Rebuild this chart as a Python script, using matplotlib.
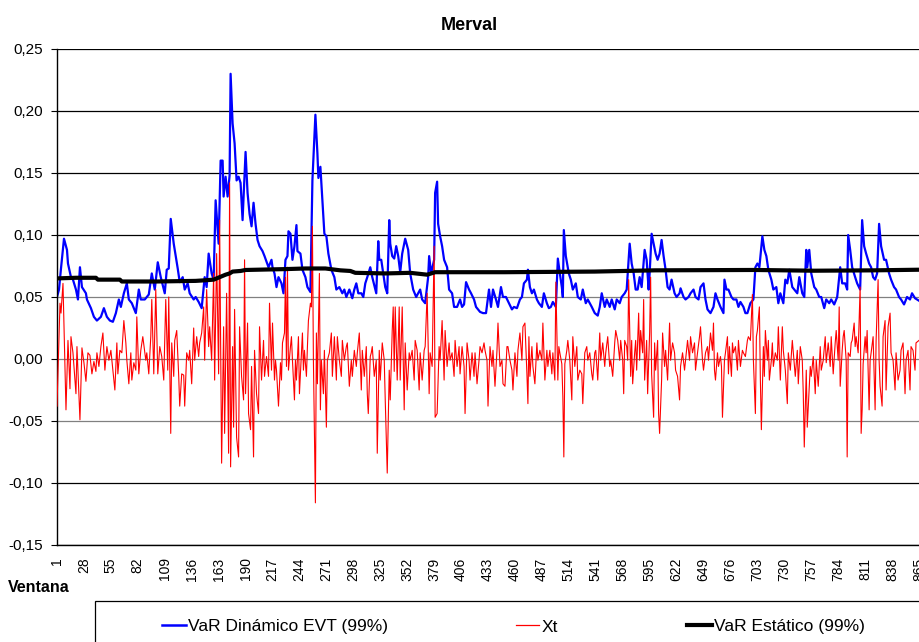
import matplotlib
matplotlib.use("Agg")
import matplotlib.pyplot as plt
from matplotlib.lines import Line2D
from matplotlib.patches import Rectangle
from matplotlib.ticker import FuncFormatter

plt.rcParams['font.family'] = ['Liberation Sans', 'DejaVu Sans']
plt.rcParams['font.size'] = 10

# ---------------- data ----------------
title = "Merval"
x_label = "Ventana"
series_names = ["VaR Dinámico EVT (99%)", "Xt", "VaR Estático (99%)"]
series_colors = ["#0000FF", "#FF0000", "#000000"]
x_ticks = list(range(1, 866, 27))
y_ticks = [-0.15, -0.10, -0.05, 0.00, 0.05, 0.10, 0.15, 0.20, 0.25]

# (window, value)
var_evt_points = [
    (1, 0.050), (3, 0.056), (5, 0.073), (8, 0.097), (11, 0.088), (12, 0.077), (15, 0.066), (17, 0.064),
    (20, 0.056), (22, 0.048), (24, 0.074), (26, 0.058), (30, 0.053), (31, 0.048), (35, 0.041), (38, 0.034),
    (41, 0.031), (45, 0.034), (48, 0.041), (51, 0.034), (54, 0.031), (57, 0.030), (60, 0.037), (63, 0.048),
    (65, 0.042), (68, 0.053), (71, 0.061), (73, 0.048), (76, 0.045), (80, 0.037), (83, 0.056), (85, 0.048),
    (89, 0.048), (93, 0.052), (96, 0.069), (99, 0.056), (102, 0.078), (105, 0.066),
    (109, 0.053), (111, 0.072), (113, 0.073), (115, 0.113), (118, 0.093), (120, 0.083), (122, 0.073),
    (124, 0.062), (127, 0.066), (129, 0.056), (132, 0.061), (134, 0.053), (138, 0.048), (140, 0.050),
    (143, 0.046), (146, 0.041), (149, 0.066), (151, 0.058), (153, 0.085), (156, 0.069), (158, 0.064),
    (160, 0.128), (163, 0.093), (165, 0.160), (167, 0.160), (168, 0.131), (170, 0.147), (172, 0.131),
    (174, 0.148), (175, 0.230), (177, 0.190), (179, 0.174), (181, 0.144), (183, 0.147), (185, 0.142),
    (187, 0.112), (190, 0.167), (192, 0.134), (194, 0.117), (196, 0.107), (198, 0.126), (200, 0.109),
    (202, 0.096), (204, 0.091), (207, 0.087), (209, 0.083), (213, 0.074),
    (216, 0.080), (217, 0.074), (219, 0.069), (221, 0.058), (223, 0.066), (226, 0.061), (228, 0.053),
    (230, 0.080), (232, 0.083), (233, 0.103), (235, 0.101), (237, 0.080), (239, 0.091), (241, 0.108),
    (242, 0.087), (245, 0.085), (247, 0.072), (250, 0.066), (252, 0.058), (255, 0.054), (257, 0.144),
    (260, 0.197), (262, 0.166), (263, 0.146), (265, 0.155), (267, 0.128), (269, 0.101), (271, 0.099),
    (273, 0.085), (276, 0.072), (279, 0.066), (281, 0.056), (284, 0.058), (287, 0.053), (289, 0.056),
    (291, 0.050), (294, 0.056), (297, 0.049), (299, 0.056), (301, 0.061), (303, 0.053), (306, 0.053),
    (308, 0.050), (310, 0.061), (312, 0.066), (315, 0.074), (317, 0.066), (321, 0.053),
    (323, 0.095), (324, 0.080), (326, 0.080), (328, 0.069), (330, 0.058), (332, 0.053), (334, 0.112),
    (335, 0.093), (337, 0.083), (339, 0.081), (341, 0.091), (343, 0.083), (345, 0.070), (347, 0.085),
    (350, 0.097), (353, 0.088), (355, 0.069), (358, 0.056), (361, 0.050), (365, 0.056), (367, 0.048),
    (370, 0.045), (373, 0.066), (374, 0.083), (376, 0.069), (379, 0.080), (380, 0.134), (382, 0.143),
    (383, 0.109), (385, 0.099), (387, 0.091), (389, 0.080), (392, 0.074), (394, 0.056), (397, 0.053),
    (399, 0.042), (402, 0.042), (405, 0.048), (407, 0.042), (409, 0.044), (411, 0.062), (414, 0.056),
    (416, 0.053), (419, 0.048), (421, 0.042), (425, 0.038), (428, 0.037), (431, 0.037),
    (434, 0.056), (436, 0.042), (438, 0.056), (441, 0.048), (443, 0.042), (446, 0.058), (448, 0.050),
    (451, 0.050), (454, 0.045), (457, 0.040), (459, 0.042), (462, 0.041), (465, 0.048), (467, 0.050),
    (469, 0.061), (472, 0.064), (473, 0.072), (475, 0.058), (477, 0.053), (479, 0.056), (482, 0.048),
    (484, 0.045), (487, 0.042), (489, 0.053), (492, 0.045), (494, 0.041), (496, 0.042), (498, 0.046),
    (501, 0.042), (503, 0.081), (505, 0.069), (507, 0.058), (508, 0.050), (509, 0.104), (511, 0.083),
    (514, 0.069), (516, 0.064), (518, 0.056), (521, 0.061), (523, 0.050), (526, 0.048), (528, 0.056),
    (531, 0.045), (533, 0.048), (537, 0.042),
    (540, 0.037), (543, 0.035), (545, 0.042), (547, 0.053), (550, 0.042), (552, 0.048), (555, 0.042),
    (557, 0.048), (560, 0.040), (562, 0.048), (565, 0.045), (567, 0.050), (570, 0.053), (572, 0.056),
    (575, 0.093), (577, 0.077), (579, 0.069), (581, 0.056), (583, 0.056), (585, 0.066), (587, 0.058),
    (590, 0.088), (592, 0.080), (594, 0.056), (595, 0.069), (597, 0.101), (599, 0.093), (601, 0.085),
    (603, 0.080), (605, 0.085), (607, 0.096), (609, 0.083), (611, 0.072), (613, 0.058), (615, 0.056),
    (617, 0.064), (620, 0.053), (622, 0.050), (625, 0.053), (626, 0.057), (629, 0.050), (631, 0.048),
    (634, 0.050), (636, 0.053), (639, 0.056), (641, 0.050), (644, 0.048), (646, 0.058),
    (649, 0.061), (651, 0.048), (653, 0.040), (656, 0.037), (659, 0.042), (661, 0.053), (663, 0.048),
    (666, 0.042), (669, 0.037), (670, 0.064), (672, 0.056), (674, 0.056), (677, 0.050), (679, 0.048),
    (682, 0.048), (684, 0.042), (686, 0.046), (689, 0.042), (691, 0.037), (693, 0.037), (696, 0.045),
    (699, 0.048), (701, 0.074), (703, 0.077), (705, 0.074), (708, 0.099), (710, 0.088), (712, 0.083),
    (714, 0.072), (717, 0.064), (719, 0.056), (722, 0.058), (724, 0.045), (726, 0.053), (729, 0.045),
    (731, 0.064), (733, 0.061), (735, 0.072), (738, 0.058), (740, 0.056), (743, 0.053), (745, 0.066),
    (748, 0.053), (750, 0.050), (752, 0.088), (753, 0.074), (755, 0.088), (757, 0.069),
    (760, 0.058), (762, 0.056), (765, 0.050), (767, 0.050), (770, 0.041), (772, 0.048), (775, 0.045),
    (777, 0.048), (780, 0.044), (783, 0.050), (786, 0.074), (788, 0.061), (791, 0.061), (793, 0.056),
    (794, 0.100), (796, 0.088), (798, 0.074), (801, 0.066), (803, 0.061), (806, 0.056), (808, 0.112),
    (810, 0.091), (812, 0.085), (815, 0.077), (817, 0.074), (819, 0.066), (821, 0.064), (823, 0.069),
    (825, 0.109), (827, 0.091), (830, 0.080), (832, 0.080), (835, 0.069), (837, 0.064), (840, 0.058),
    (842, 0.056), (845, 0.050), (847, 0.048), (850, 0.044), (853, 0.050), (856, 0.048), (858, 0.053),
    (861, 0.049), (865, 0.047),
]

xt_points = [
    (1, -0.038), (4, 0.045), (5, 0.037), (7, 0.061), (10, -0.041), (12, 0.015), (14, -0.024), (15, 0.018),
    (17, 0.005), (20, -0.028), (21, 0.010), (24, -0.049), (26, 0.009), (28, -0.003), (30, -0.018), (32, 0.005),
    (34, 0.003), (36, -0.012), (38, -0.002), (40, -0.010), (41, 0.005), (43, -0.006), (45, 0.010), (47, 0.021),
    (49, -0.009), (51, 0.010), (53, -0.001), (55, 0.007), (57, -0.009), (59, -0.025), (61, 0.013), (62, -0.012),
    (64, 0.007), (66, 0.005), (68, 0.031), (70, 0.013), (71, -0.001), (73, -0.020), (75, 0.005), (76, -0.017),
    (78, -0.003), (80, -0.009), (81, 0.034), (83, -0.012), (85, 0.007), (87, 0.018), (90, -0.001), (91, 0.005),
    (93, -0.012), (95, 0.018), (96, 0.048), (98, -0.012), (100, 0.056), (102, -0.012), (104, 0.010),
    (106, 0.002), (108, -0.017), (110, 0.048), (112, -0.009), (113, 0.050), (115, -0.060), (116, 0.013),
    (118, -0.014), (119, 0.015), (121, 0.023), (123, -0.014), (124, -0.038), (126, -0.012), (128, -0.013),
    (129, -0.038), (131, 0.005), (133, -0.001), (134, 0.007), (136, -0.020), (138, 0.025), (139, -0.001),
    (141, 0.018), (143, 0.002), (144, 0.013), (146, 0.021), (148, 0.042), (149, -0.001), (151, 0.056),
    (153, 0.010), (154, 0.026), (156, -0.001), (158, 0.069), (159, -0.017), (161, 0.085), (163, -0.012),
    (164, 0.112), (166, -0.084), (168, 0.026), (169, -0.060), (171, 0.053), (173, -0.076), (174, 0.142),
    (175, -0.087), (177, 0.010), (178, -0.055), (179, 0.040), (181, -0.063), (183, -0.079), (184, 0.026),
    (186, -0.014), (188, -0.033), (189, 0.080), (190, -0.028), (192, 0.029), (193, -0.044), (195, -0.057),
    (196, -0.006), (198, -0.079), (199, 0.007), (201, -0.028), (203, -0.044), (204, 0.026), (206, -0.017),
    (208, 0.015), (209, -0.014), (211, 0.002), (213, -0.014), (214, 0.045), (216, -0.009),
    (217, 0.029), (219, -0.017), (220, -0.001), (221, -0.009), (223, -0.038), (225, -0.003), (226, -0.017),
    (227, 0.013), (229, 0.021), (230, 0.066), (231, -0.006), (232, 0.074), (233, -0.009), (235, 0.010),
    (236, 0.018), (237, -0.001), (239, -0.033), (240, -0.001), (241, -0.017), (243, 0.018), (244, -0.028),
    (245, -0.012), (247, 0.021), (248, -0.009), (249, 0.007), (251, -0.014), (252, 0.010), (253, 0.031),
    (255, 0.045), (256, 0.042), (257, 0.107), (258, -0.001), (260, -0.116), (261, 0.021), (262, -0.020),
    (264, 0.069), (265, -0.041), (266, -0.001), (268, -0.028), (269, 0.007), (271, -0.055), (272, -0.001),
    (274, 0.005), (276, 0.021), (277, -0.014), (279, 0.018), (281, -0.017), (282, 0.018), (284, -0.001),
    (286, -0.014), (287, 0.015), (289, -0.001), (291, 0.010), (292, 0.013), (294, -0.022), (296, -0.001),
    (297, -0.014), (299, 0.007), (301, -0.006), (302, 0.005), (304, 0.021), (306, -0.025), (307, 0.007),
    (309, -0.014), (311, 0.010), (312, -0.028), (313, -0.044), (315, 0.002), (316, 0.005), (317, 0.010),
    (319, -0.014), (321, -0.001),
    (322, -0.076), (324, 0.007), (325, -0.017), (327, 0.013), (329, -0.001), (330, -0.033), (332, -0.092),
    (334, -0.009), (335, -0.033), (337, 0.023), (338, 0.042), (339, -0.010), (340, 0.042), (342, -0.017),
    (344, 0.042), (345, -0.017), (347, 0.042), (349, -0.041), (350, 0.013), (352, -0.025), (354, 0.005),
    (355, -0.001), (357, 0.007), (359, -0.017), (360, 0.015), (362, 0.007), (364, -0.025), (365, 0.005),
    (367, -0.017), (369, 0.007), (370, 0.010), (372, 0.053), (374, -0.028), (375, 0.005), (377, -0.006),
    (379, 0.091), (380, -0.047), (382, -0.044), (384, 0.010), (385, -0.001), (387, 0.031), (389, -0.017),
    (390, 0.023), (392, -0.006), (394, 0.013), (395, -0.001), (397, 0.005), (399, -0.014), (400, 0.015),
    (402, -0.006), (404, 0.010), (405, -0.012), (407, 0.010), (409, -0.006), (410, -0.044), (412, 0.013),
    (414, -0.001), (415, -0.017), (417, 0.005), (419, -0.014), (420, 0.005), (422, -0.020), (424, -0.001),
    (425, 0.010), (427, 0.005), (429, 0.013), (430, 0.007), (432, -0.001),
    (433, -0.038), (435, 0.010), (437, -0.006), (438, 0.007), (440, -0.022), (442, 0.007), (443, 0.029),
    (445, -0.006), (447, -0.001), (448, -0.020), (450, -0.022), (452, 0.010), (453, 0.010), (455, -0.001),
    (457, -0.009), (458, -0.025), (460, 0.005), (462, -0.014), (463, 0.007), (465, 0.021), (467, -0.001),
    (468, 0.026), (470, 0.029), (472, -0.012), (473, -0.036), (474, 0.018), (475, -0.014), (477, 0.010),
    (478, -0.006), (480, -0.020), (482, 0.013), (483, -0.001), (485, 0.007), (487, -0.001), (488, 0.029),
    (490, -0.017), (492, 0.007), (493, -0.006), (495, 0.007), (497, -0.012), (498, 0.005), (500, -0.017),
    (501, 0.062), (503, -0.017), (504, 0.010), (505, 0.005), (507, -0.004), (508, -0.030), (509, -0.079),
    (510, -0.004), (512, 0.007), (513, 0.015), (515, -0.001), (517, -0.033), (518, 0.018), (520, -0.006),
    (522, 0.010), (523, -0.017), (525, -0.009), (527, -0.012), (528, -0.036), (530, 0.005), (532, 0.010),
    (533, -0.001), (535, 0.005), (537, -0.012), (538, -0.017),
    (540, 0.005), (541, 0.007), (543, -0.017), (545, 0.021), (546, -0.001), (548, 0.013), (550, -0.006),
    (551, 0.005), (553, 0.018), (555, -0.006), (556, -0.001), (558, -0.014), (560, 0.013), (561, 0.023),
    (563, 0.015), (565, -0.001), (566, 0.015), (568, -0.001), (569, -0.028), (570, 0.015), (572, 0.010),
    (573, -0.001), (574, 0.064), (576, -0.014), (577, 0.015), (578, -0.020), (580, 0.005), (581, 0.015),
    (582, -0.009), (584, 0.037), (585, -0.001), (586, 0.023), (588, 0.005), (589, 0.048), (590, -0.017),
    (592, 0.015), (593, -0.028), (595, 0.021), (596, 0.066), (597, -0.012), (599, -0.047), (600, 0.013),
    (601, -0.009), (603, 0.015), (604, -0.044), (605, -0.060), (607, -0.017), (608, 0.021), (610, -0.006),
    (611, 0.007), (613, -0.017), (615, 0.029), (616, -0.001), (618, 0.013), (620, 0.005), (621, -0.009),
    (623, -0.014), (625, -0.033), (626, -0.006), (628, 0.005), (630, -0.009), (631, -0.001), (633, 0.015),
    (635, -0.001), (636, 0.018), (638, 0.005), (640, 0.013), (641, -0.009), (643, 0.005), (645, 0.018),
    (646, 0.026), (648, -0.001),
    (649, -0.009), (651, 0.005), (653, 0.010), (654, -0.001), (656, 0.021), (658, 0.007), (659, 0.029),
    (660, -0.009), (661, -0.017), (663, 0.005), (664, -0.006), (666, 0.002), (667, -0.006), (668, -0.047),
    (670, -0.001), (671, 0.005), (673, 0.018), (674, -0.012), (675, 0.010), (677, -0.014), (678, 0.013),
    (679, 0.005), (681, 0.010), (683, -0.009), (684, 0.015), (686, -0.006), (688, 0.007), (689, 0.005),
    (691, 0.002), (693, 0.015), (694, 0.018), (696, 0.015), (698, 0.052), (699, -0.001), (701, -0.044),
    (702, 0.018), (703, 0.023), (705, 0.042), (706, -0.017), (707, -0.057), (709, 0.010), (710, -0.014),
    (711, 0.023), (713, -0.001), (714, 0.015), (715, -0.017), (717, -0.001), (718, 0.013), (719, -0.006),
    (721, 0.005), (723, -0.001), (724, 0.026), (726, -0.017), (728, 0.026), (729, 0.007), (731, -0.009),
    (733, -0.036), (734, 0.005), (736, -0.009), (738, 0.015), (739, 0.005), (741, -0.014), (743, 0.007),
    (744, -0.020), (746, 0.010), (748, -0.001), (749, -0.028), (750, -0.071), (752, -0.009), (753, -0.055),
    (756, -0.006), (757, -0.014), (759, 0.002), (761, -0.028), (762, -0.001), (764, -0.022), (766, 0.010),
    (767, -0.009), (769, -0.001), (771, 0.018), (772, -0.003), (774, 0.013), (776, -0.006), (777, 0.018),
    (779, -0.012), (781, 0.013), (782, 0.023), (784, -0.001), (785, 0.042), (786, -0.022), (788, 0.007),
    (789, 0.018), (790, 0.023), (792, -0.001), (793, -0.079), (794, 0.005), (796, 0.002), (797, 0.013),
    (798, 0.015), (800, 0.029), (801, 0.010), (802, 0.018), (804, 0.005), (806, 0.058), (807, -0.060),
    (808, -0.041), (809, -0.004), (811, 0.018), (812, 0.005), (813, 0.023), (815, -0.041), (816, -0.001),
    (817, 0.005), (819, 0.018), (821, -0.041), (822, 0.015), (824, 0.064), (825, -0.001), (826, -0.022),
    (828, -0.038), (829, 0.018), (831, 0.031), (832, -0.025), (834, 0.026), (836, 0.037), (837, 0.005),
    (839, -0.001), (841, -0.025), (842, 0.005), (844, -0.017), (846, -0.009), (847, 0.007), (849, 0.013),
    (851, -0.028), (852, -0.001), (854, 0.007), (856, -0.025), (857, 0.010), (859, 0.007), (861, -0.009),
    (862, 0.013), (865, 0.015),
]

var_static_points = [
    (1, 0.065), (20, 0.0655), (40, 0.0655), (42, 0.064), (64, 0.064), (66, 0.0625), (100, 0.0625),
    (140, 0.063), (150, 0.0635), (158, 0.064), (164, 0.066), (170, 0.068), (174, 0.069), (177, 0.0705),
    (185, 0.071), (190, 0.0718), (230, 0.0725), (250, 0.073), (270, 0.073), (285, 0.0715), (295, 0.071),
    (300, 0.0695), (330, 0.069), (355, 0.0695), (372, 0.068), (380, 0.070), (450, 0.0700), (540, 0.0705),
    (600, 0.0715), (700, 0.0718), (760, 0.0712), (820, 0.0715), (865, 0.072),
]

# ---------------- figure ----------------
W, H = 919, 642
fig = plt.figure(figsize=(W / 100, H / 100), dpi=100)
fig.patch.set_facecolor("white")


def fx(px):
    return px / W


def fy(py):
    return 1 - py / H


ax_l, ax_r, ax_t, ax_b = 57, 922, 49, 545
ax = fig.add_axes([fx(ax_l), fy(ax_b), (ax_r - ax_l) / W, (ax_b - ax_t) / H])
ax.set_xlim(1, 868)
ax.set_ylim(y_ticks[0], y_ticks[-1])

# gridlines
for yv in y_ticks:
    col = "#808080" if abs(yv) < 0.06 else "#000000"
    ax.axhline(yv, color=col, lw=0.9, zorder=0.5)

evt_w, evt_v = zip(*var_evt_points)
xt_w, xt_v = zip(*xt_points)
st_w, st_v = zip(*var_static_points)

ax.plot(evt_w, evt_v, color=series_colors[0], lw=1.6, zorder=2, solid_joinstyle="round")
ax.plot(xt_w, xt_v, color=series_colors[1], lw=0.8, zorder=3)
ax.plot(st_w, st_v, color=series_colors[2], lw=3.0, zorder=4, solid_capstyle="butt")

ax.set_yticks(y_ticks)
ax.yaxis.set_major_formatter(FuncFormatter(lambda v, p: f"{v:.2f}".replace(".", ",").replace("-0,00", "0,00")))
ax.set_xticks(x_ticks)
ax.set_xticklabels([str(t) for t in x_ticks], rotation=90)
ax.tick_params(axis="y", direction="out", length=4, width=0.8, pad=6, labelsize=11, colors="black")
ax.tick_params(axis="x", direction="out", length=0, pad=9, labelsize=10, colors="black")

for s in ["top", "right"]:
    ax.spines[s].set_visible(False)
ax.spines["left"].set_linewidth(1.0)
ax.spines["bottom"].set_linewidth(1.0)
ax.spines["left"].set_color("black")
ax.spines["bottom"].set_color("black")

# title and axis title
fig.text(fx(469), fy(25), title, ha="center", va="center", fontsize=13, fontweight="bold")
fig.text(fx(8), fy(587), x_label, ha="left", va="center", fontsize=11.5, fontweight="bold")

# legend box (extends past the right/bottom edge like the reference)
fig.add_artist(Rectangle((fx(95), fy(660)), (W + 20 - 95) / W, (660 - 601) / H,
                         transform=fig.transFigure, fill=False, ec="black", lw=0.9))
leg_line_y = 625
leg_text_y = 627
legend_items = [
    (162, 186, 188, series_colors[0], 1.8, series_names[0]),
    (516, 539, 542, series_colors[1], 0.9, series_names[1]),
    (687, 712, 714, series_colors[2], 3.0, series_names[2]),
]
for x0, x1, xt, col, lw, name in legend_items:
    fig.add_artist(Line2D([fx(x0), fx(x1)], [fy(leg_line_y), fy(leg_line_y)], transform=fig.transFigure,
                          color=col, lw=lw))
    fig.text(fx(xt), fy(leg_text_y), name, ha="left", va="center", fontsize=12.5)

fig.savefig("out.png", dpi=100)
